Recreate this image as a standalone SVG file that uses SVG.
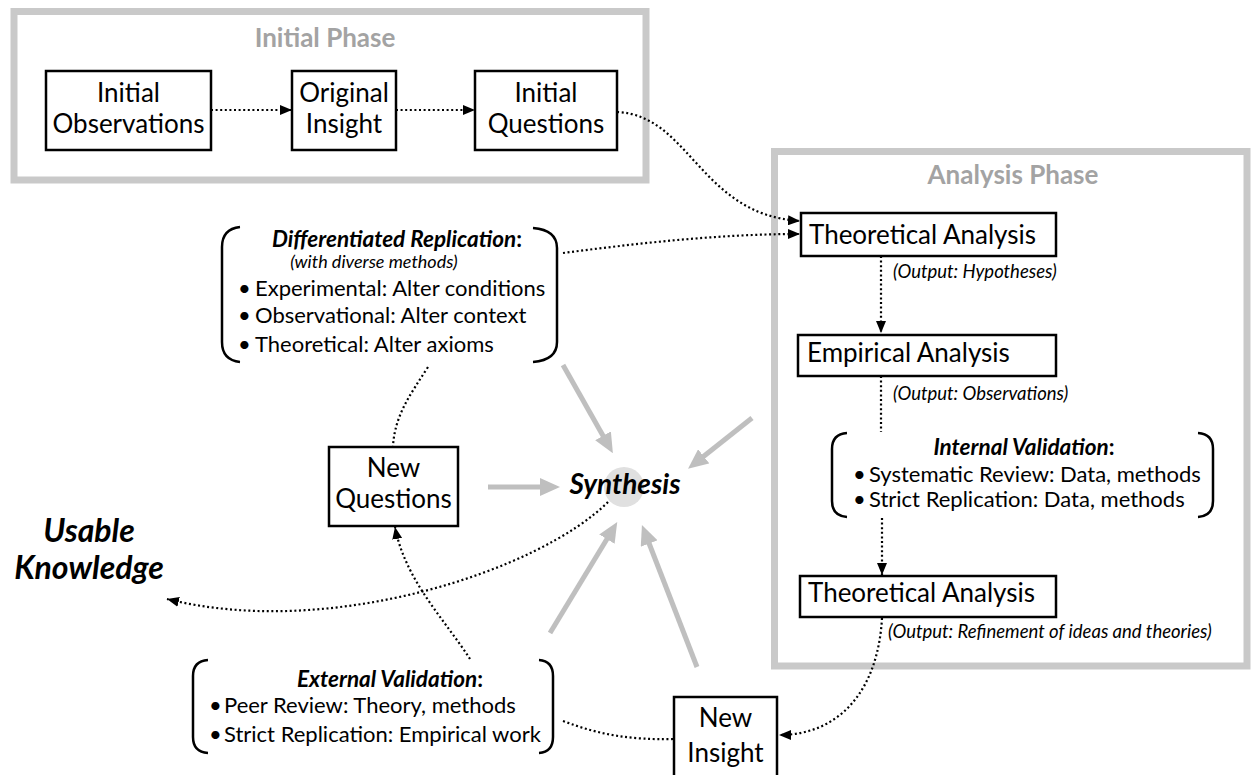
<svg xmlns="http://www.w3.org/2000/svg" width="1254" height="775" viewBox="0 0 1254 775">
  <style>
    text { font-family: Lato, "Liberation Sans", sans-serif; fill: #000; }
    .phase { fill: none; stroke: #c9c9c9; stroke-width: 7; }
    .phase-title { font-size: 26px; font-weight: bold; fill: #a3a3a3; text-anchor: middle; }
    .box { fill: #fff; stroke: #000; stroke-width: 2.5; }
    .lbl { font-size: 26px; text-anchor: middle; }
    .lbl-l { font-size: 26px; }
    .out { font-size: 18.5px; font-style: italic; }
    .list { font-size: 22px; }
    .head { font-size: 22.5px; font-weight: bold; text-anchor: middle; }
    .head tspan.it { font-style: italic; }
    .sub { font-size: 18px; font-style: italic; }
    .brace { fill: none; stroke: #000; stroke-width: 2.5; }
    .dot { fill: none; stroke: #000; stroke-width: 2.2; stroke-dasharray: 2 2.6; }
    .gray { fill: none; stroke: #bfbfbf; stroke-width: 5; }
    .big { font-weight: bold; font-style: italic; }
  </style>
  <defs>
    <marker id="tri" markerUnits="userSpaceOnUse" markerWidth="12" markerHeight="10" refX="12" refY="5" orient="auto">
      <path d="M0,0 L12,5 L0,10 z" fill="#000"/>
    </marker>
    <marker id="gtri" markerUnits="userSpaceOnUse" markerWidth="20" markerHeight="18" refX="6" refY="9" orient="auto">
      <path d="M0,0 L20,9 L0,18 z" fill="#bfbfbf"/>
    </marker>
  </defs>

  <!-- phase frames -->
  <g id="initial-phase">
    <rect class="phase" x="14" y="11.5" width="632" height="168.5"/>
    <text class="phase-title" x="325" y="47">Initial Phase</text>
  </g>
  <g id="analysis-phase">
    <rect class="phase" x="774.5" y="151.5" width="472.5" height="514.5"/>
    <text class="phase-title" x="1013" y="184">Analysis Phase</text>
  </g>

  <!-- connectors -->
  <g id="connectors">
    <path class="dot" d="M211,110 L292,110" marker-end="url(#tri)"/>
    <path class="dot" d="M396,110 L475,110" marker-end="url(#tri)"/>
    <path class="dot" d="M617,112 C690,115 700,215 800,221" marker-end="url(#tri)"/>
    <path class="dot" d="M563,253 C640,243 720,234 800,234" marker-end="url(#tri)"/>
    <path class="dot" d="M881,256 L881,333" marker-end="url(#tri)"/>
    <path class="dot" d="M881,376 L881,432"/>
    <path class="dot" d="M882,518 L882,575" marker-end="url(#tri)"/>
    <path class="dot" d="M882,618 C878,690 840,735 779,735" marker-end="url(#tri)"/>
    <path class="dot" d="M563,721 C600,735 630,740 674,739"/>
    <path class="dot" d="M470,659 C445,620 405,580 395,527" marker-end="url(#tri)"/>
    <path class="dot" d="M428,367 C410,395 395,415 393,446"/>
    <path class="dot" d="M608,502 C540,570 330,640 167,599" marker-end="url(#tri)"/>

    <path class="gray" d="M488,487 L546,487" marker-end="url(#gtri)"/>
    <path class="gray" d="M563,365 L606,441" marker-end="url(#gtri)"/>
    <path class="gray" d="M752,418 L699,460" marker-end="url(#gtri)"/>
    <path class="gray" d="M550,633 L610,534" marker-end="url(#gtri)"/>
    <path class="gray" d="M697,667 L647,538" marker-end="url(#gtri)"/>
  </g>

  <!-- initial phase nodes -->
  <g id="initial-observations">
    <rect class="box" x="46" y="71" width="165" height="79"/>
    <text class="lbl" x="128.5" y="102">Initial</text>
    <text class="lbl" x="128.5" y="133">Observations</text>
  </g>
  <g id="original-insight">
    <rect class="box" x="292" y="71" width="104" height="79"/>
    <text class="lbl" x="344" y="102">Original</text>
    <text class="lbl" x="344" y="133">Insight</text>
  </g>
  <g id="initial-questions">
    <rect class="box" x="475" y="71" width="142" height="79"/>
    <text class="lbl" x="546" y="102">Initial</text>
    <text class="lbl" x="546" y="133">Questions</text>
  </g>

  <!-- analysis phase nodes -->
  <g id="theoretical-analysis-1">
    <rect class="box" x="801" y="213" width="255" height="43"/>
    <text class="lbl-l" x="809" y="244">Theoretical Analysis</text>
    <text class="out" x="893" y="278">(Output: Hypotheses)</text>
  </g>
  <g id="empirical-analysis">
    <rect class="box" x="798" y="335" width="258" height="41"/>
    <text class="lbl-l" x="807" y="362">Empirical Analysis</text>
    <text class="out" x="893" y="400">(Output: Observations)</text>
  </g>
  <g id="internal-validation">
    <path class="brace" d="M847,433 Q832,434 832,449 L832,501 Q832,516 847,517"/>
    <path class="brace" d="M1198,433 Q1213,434 1213,449 L1213,501 Q1213,516 1198,517"/>
    <text class="head" x="1024" y="455"><tspan class="it">Internal Validation</tspan>:</text>
    <text class="list" x="853" y="482">•</text>
    <text class="list" x="869" y="482">Systematic Review: Data, methods</text>
    <text class="list" x="853" y="507">•</text>
    <text class="list" x="869" y="507">Strict Replication: Data, methods</text>
  </g>
  <g id="theoretical-analysis-2">
    <rect class="box" x="800" y="576" width="256" height="41"/>
    <text class="lbl-l" x="808" y="602">Theoretical Analysis</text>
    <text class="out" x="888" y="638" font-size="19">(Output: Refinement of ideas and theories)</text>
  </g>

  <!-- synthesis cycle -->
  <g id="differentiated-replication">
    <path class="brace" d="M240,227 Q222,229 222,247 L222,342 Q222,360 240,362"/>
    <path class="brace" d="M533,228 Q557,230 557,248 L557,342 Q557,360 533,362"/>
    <text class="head" x="397" y="247"><tspan class="it">Differentiated Replication</tspan>:</text>
    <text class="sub" x="374" y="268" text-anchor="middle">(with diverse methods)</text>
    <text class="list" x="238" y="296">•</text>
    <text class="list" x="255" y="296">Experimental: Alter conditions</text>
    <text class="list" x="238" y="323">•</text>
    <text class="list" x="255" y="323">Observational: Alter context</text>
    <text class="list" x="238" y="352">•</text>
    <text class="list" x="255" y="352">Theoretical: Alter axioms</text>
  </g>
  <g id="new-questions">
    <rect class="box" x="329" y="447" width="129" height="79"/>
    <text class="lbl" x="393.5" y="477">New</text>
    <text class="lbl" x="393.5" y="508">Questions</text>
  </g>
  <g id="synthesis">
    <circle cx="624" cy="487" r="20" fill="#e0e0e0"/>
    <text class="big" x="625" y="494" font-size="28" text-anchor="middle">Synthesis</text>
  </g>
  <g id="usable-knowledge">
    <text class="big" x="89" y="542" font-size="32" text-anchor="middle">Usable</text>
    <text class="big" x="89" y="579" font-size="32" text-anchor="middle">Knowledge</text>
  </g>
  <g id="external-validation">
    <path class="brace" d="M208,660 Q193,661 193,676 L193,737 Q193,752 208,753"/>
    <path class="brace" d="M539,660 Q553,661 553,676 L553,737 Q553,752 539,753"/>
    <text class="head" x="390" y="687"><tspan class="it">External Validation</tspan>:</text>
    <text class="list" x="209" y="713">•</text>
    <text class="list" x="224" y="713">Peer Review: Theory, methods</text>
    <text class="list" x="209" y="742">•</text>
    <text class="list" x="224" y="742">Strict Replication: Empirical work</text>
  </g>
  <g id="new-insight">
    <rect class="box" x="674" y="697" width="103" height="80"/>
    <text class="lbl" x="725.5" y="727">New</text>
    <text class="lbl" x="725.5" y="762">Insight</text>
  </g>
</svg>
